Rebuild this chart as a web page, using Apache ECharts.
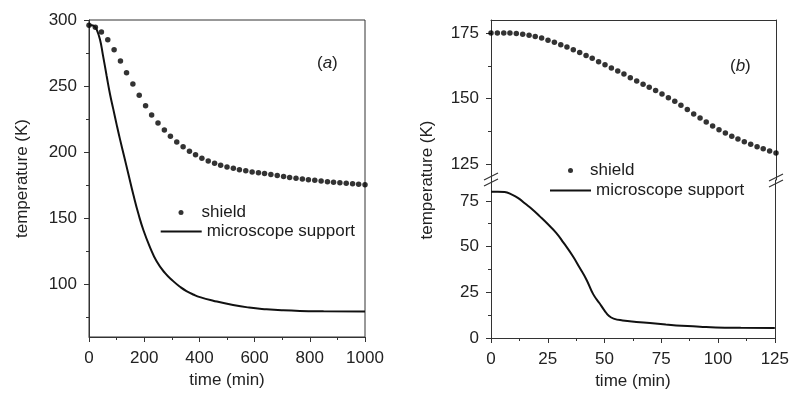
<!DOCTYPE html>
<html>
<head>
<meta charset="utf-8">
<script src="https://cdn.jsdelivr.net/npm/echarts@6/dist/echarts.min.js"></script>
<style>
  html, body { margin: 0; padding: 0; background: #fff; }
  #chart { width: 792px; height: 394px; }
</style>
</head>
<body>
<div id="chart"></div>
<script>
// panel (a): full cooldown, 0..1000 min
const shieldTimeA = [0, 23, 45, 68, 91, 114, 136, 159, 182, 205, 227, 250, 273, 295, 318, 341, 364, 386, 409, 432, 455, 477, 500, 523, 545, 568, 591, 614, 636, 659, 682, 705, 727, 750, 773, 795, 818, 841, 864, 886, 909, 932, 955, 977, 1000];
const shieldTempA = [296, 294.5, 291, 285, 277.5, 269, 260, 251.6, 243, 235, 228, 222, 216.7, 212, 207.7, 204, 200.7, 198, 195.3, 193.2, 191.5, 190, 188.8, 187.7, 186.7, 185.8, 185, 184.3, 183.7, 183, 182.2, 181.5, 180.8, 180.2, 179.6, 179.1, 178.6, 178.1, 177.6, 177.2, 176.8, 176.4, 176, 175.6, 175.3];
const supportTimeA = [0, 10, 20, 28, 40, 50, 64, 76, 88, 100, 112, 127, 142, 161, 180, 197, 220, 245, 275, 305, 330, 353, 380, 402, 450, 522, 580, 643, 700, 764, 850, 1000];
const supportTempA = [296, 296, 295, 292.7, 285, 274, 257.6, 244, 232.5, 221, 210, 197, 184, 167.5, 152.5, 141, 128.5, 117.3, 108.5, 102.3, 98, 94.8, 92, 90.2, 87.5, 84.2, 82.3, 81, 80.2, 79.7, 79.5, 79.4];

// panel (b): second stage, 0..125 min
const shieldTimeB = [0, 2.8, 5.6, 8.3, 11.1, 13.9, 16.7, 19.4, 22.2, 25, 27.8, 30.6, 33.3, 36.1, 38.9, 41.7, 44.4, 47.2, 50, 52.8, 55.6, 58.3, 61.1, 63.9, 66.7, 69.4, 72.2, 75, 77.8, 80.6, 83.3, 86.1, 88.9, 91.7, 94.4, 97.2, 100, 102.8, 105.6, 108.3, 111.1, 113.9, 116.7, 119.4, 122.2, 125];
const shieldTempB = [175, 175, 175, 175, 174.9, 174.6, 174.2, 173.7, 173.1, 172.3, 171.5, 170.6, 169.7, 168.7, 167.6, 166.5, 165.4, 164.1, 162.9, 161.7, 160.6, 159.4, 158, 156.7, 155.5, 154.4, 153.1, 151.8, 150.4, 149, 147.5, 145.9, 144.2, 142.6, 141.1, 139.6, 138.2, 136.9, 135.7, 134.6, 133.6, 132.6, 131.7, 130.9, 130.1, 129.3];
const supportTimeB = [0, 3, 6, 9, 12, 15, 18, 21.5, 25, 28.8, 32, 36, 39, 42, 45, 47.8, 50, 52, 54, 58, 64, 70, 77, 84, 92, 99, 110, 125];
const supportTempB = [80, 80, 79.8, 78.5, 76.5, 73.5, 70.5, 66.5, 62.3, 57.4, 52, 44.8, 38.5, 32, 24, 19, 15, 12, 10.6, 9.6, 8.8, 8.2, 7.4, 6.7, 6.2, 5.8, 5.6, 5.5];

// tick labels
const yTicksA = [100, 150, 200, 250, 300];
const yMinorA = [75, 125, 175, 225, 275];
const yTicksBUpper = [125, 150, 175];
const yMinorBUpper = [137.5, 162.5];
const yTicksBLower = [0, 25, 50, 75];
const yMinorBLower = [12.5, 37.5, 62.5];

const FONT = "'Liberation Sans', Arial, Helvetica, sans-serif";
const INK = "#111";
const DOT = "#000";
const AXIS = "#333";
const LABEL = { color: "#222", fontSize: 17, fontFamily: FONT };
const plain = v => String(v);

const zip = (xs, ys) => xs.map((x, i) => [x, ys[i]]);

function tickAxis(grid, min, max, labels, extra) {
  return Object.assign({
    type: "value", gridIndex: grid, min, max, position: "left",
    axisLine: { show: true, lineStyle: { color: AXIS, width: 1 } },
    axisTick: { show: true, length: 5, customValues: labels, lineStyle: { color: AXIS } },
    axisLabel: Object.assign({ margin: 12, customValues: labels, formatter: plain }, LABEL),
    splitLine: { show: false },
  }, extra || {});
}
function minorAxis(grid, min, max, vals) {
  return {
    type: "value", gridIndex: grid, min, max, position: "left",
    axisLine: { show: false },
    axisTick: { show: true, length: 3, customValues: vals, lineStyle: { color: AXIS } },
    axisLabel: { show: false },
    splitLine: { show: false },
  };
}
function lineOnly(grid, min, max, pos) {
  return {
    type: "value", gridIndex: grid, min, max, position: pos,
    axisLine: { show: true, onZero: false, lineStyle: { color: AXIS, width: 1 } },
    axisTick: { show: false }, axisLabel: { show: false }, splitLine: { show: false },
  };
}
function xAxisTicks(grid, max, interval) {
  return {
    type: "value", gridIndex: grid, min: 0, max, interval, position: "bottom",
    name: "time (min)", nameLocation: "middle", nameGap: 35,
    nameTextStyle: LABEL,
    axisLine: { show: true, onZero: false, lineStyle: { color: AXIS, width: 1 } },
    axisTick: { show: true, length: 5, lineStyle: { color: AXIS } },
    minorTick: { show: true, splitNumber: 2, length: 3, lineStyle: { color: AXIS } },
    axisLabel: Object.assign({ margin: 13, formatter: plain }, LABEL),
    splitLine: { show: false },
  };
}

const chart = echarts.init(document.getElementById("chart"), null, { renderer: "canvas" });

const legendBase = {
  orient: "vertical", selectedMode: false, itemGap: 6,
  textStyle: { color: "#1c1c1c", fontSize: 17, fontFamily: FONT },
};
const lineIcon = { name: "microscope support", icon: "rect", itemStyle: { color: INK } };

chart.setOption({
  animation: false,
  backgroundColor: "#fff",
  title: [
    { text: "({i|a})", left: 312, top: 50, textStyle: { fontSize: 17, fontWeight: "normal", color: "#222", fontFamily: FONT, rich: { i: { fontStyle: "italic", fontSize: 17, fontFamily: FONT, color: "#222" } } } },
    { text: "({i|b})", left: 725, top: 53, textStyle: { fontSize: 17, fontWeight: "normal", color: "#222", fontFamily: FONT, rich: { i: { fontStyle: "italic", fontSize: 17, fontFamily: FONT, color: "#222" } } } },
  ],
  legend: [
    Object.assign({}, legendBase, { data: [{ name: "shield", icon: "circle" }], left: 173.5, top: 199, itemWidth: 5, itemHeight: 5,
      textStyle: Object.assign({}, legendBase.textStyle, { padding: [0, 0, 0, 13] }) }),
    Object.assign({}, legendBase, { data: [lineIcon], left: 155.7, top: 218, itemWidth: 41, itemHeight: 2 }),
    Object.assign({}, legendBase, { data: [{ name: "shield", icon: "circle" }], left: 563, top: 157, itemWidth: 5, itemHeight: 5,
      textStyle: Object.assign({}, legendBase.textStyle, { padding: [0, 0, 0, 12] }) }),
    Object.assign({}, legendBase, { data: [lineIcon], left: 545, top: 177, itemWidth: 41, itemHeight: 2 }),
  ],
  grid: [
    { left: 89, top: 20, width: 276, height: 319, show: true, borderColor: AXIS, borderWidth: 1, backgroundColor: "transparent" },
    { left: 491, top: 20, width: 285, height: 160 },
    { left: 491, top: 180, width: 285, height: 158 },
  ],
  xAxis: [
    xAxisTicks(0, 1000, 200),
    lineOnly(1, 0, 125, "top"),
    xAxisTicks(2, 125, 25),
  ],
  yAxis: [
    tickAxis(0, 60, 300, yTicksA, { name: "temperature (K)", nameLocation: "middle", nameGap: 58, nameTextStyle: LABEL }),
    minorAxis(0, 60, 300, yMinorA),
    tickAxis(1, 119, 180, yTicksBUpper),
    minorAxis(1, 119, 180, yMinorBUpper),
    lineOnly(1, 119, 180, "right"),
    tickAxis(2, 0, 86.4, yTicksBLower),
    minorAxis(2, 0, 86.4, yMinorBLower),
    lineOnly(2, 0, 86.4, "right"),
  ],
  series: [
    { name: "microscope support", type: "line", xAxisIndex: 0, yAxisIndex: 0, data: zip(supportTimeA, supportTempA),
      symbol: "none", smooth: 0.5, lineStyle: { color: INK, width: 2 }, itemStyle: { color: INK } },
    { name: "shield", type: "scatter", xAxisIndex: 0, yAxisIndex: 0, data: zip(shieldTimeA, shieldTempA),
      symbol: "circle", symbolSize: 5.5, itemStyle: { color: DOT } },
    { name: "shield", type: "scatter", xAxisIndex: 1, yAxisIndex: 2, data: zip(shieldTimeB, shieldTempB),
      symbol: "circle", symbolSize: 5.5, itemStyle: { color: DOT } },
    { name: "microscope support", type: "line", xAxisIndex: 2, yAxisIndex: 5, data: zip(supportTimeB, supportTempB),
      symbol: "none", smooth: 0.5, lineStyle: { color: INK, width: 2 }, itemStyle: { color: INK } },
  ],
  graphic: [
    { type: "text", x: 427, y: 180, rotation: Math.PI / 2,
      style: { text: "temperature (K)", fill: "#222", fontSize: 17, fontFamily: FONT, align: "center", verticalAlign: "middle" } },
    // axis break marks
    { type: "line", shape: { x1: 484, y1: 180, x2: 498, y2: 173 }, style: { stroke: AXIS, lineWidth: 1.2 } },
    { type: "line", shape: { x1: 484, y1: 186, x2: 498, y2: 179 }, style: { stroke: AXIS, lineWidth: 1.2 } },
    { type: "line", shape: { x1: 769, y1: 181, x2: 783, y2: 174 }, style: { stroke: AXIS, lineWidth: 1.2 } },
    { type: "line", shape: { x1: 769, y1: 187, x2: 783, y2: 180 }, style: { stroke: AXIS, lineWidth: 1.2 } },
  ],
});
</script>
</body>
</html>
